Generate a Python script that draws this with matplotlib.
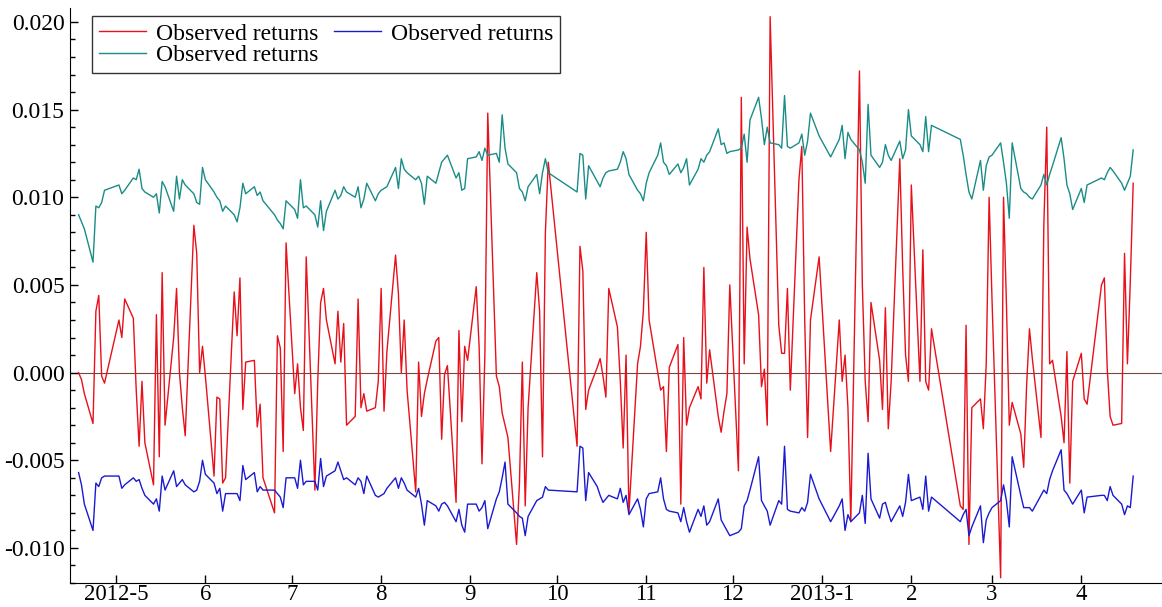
import matplotlib
matplotlib.use("Agg")
import matplotlib.pyplot as plt
import matplotlib.dates as mdates
from matplotlib.ticker import FixedLocator, MultipleLocator, FuncFormatter
import pandas as pd

# trading days (Shanghai), 2012-04-18 .. 2013-04-19
start, end = "2012-04-18", "2013-04-19"
holidays = ["2012-04-30", "2012-05-01", "2012-06-22",
            "2012-10-01", "2012-10-02", "2012-10-03", "2012-10-04", "2012-10-05",
            "2013-01-01", "2013-01-02", "2013-01-03",
            "2013-02-11", "2013-02-12", "2013-02-13", "2013-02-14", "2013-02-15",
            "2013-04-04", "2013-04-05"]

# observed returns (red), month by month
returns = [
    0.0000, -0.0004, -0.0012, -0.0029, 0.0035, 0.0044, -0.0002, -0.0006,
    0.0030, 0.0020, 0.0042, 0.0031, -0.0010, -0.0042, -0.0005, -0.0040, -0.0064, 0.0033, -0.0048,
    0.0057, -0.0030, 0.0020, 0.0048, 0.0000, -0.0020, -0.0036, 0.0084, 0.0068, 0.0000, 0.0015,
    -0.0002, -0.0059, -0.0014, -0.0015, -0.0063, -0.0060, 0.0046, 0.0021, 0.0054, -0.0021,
    0.0006, 0.0007, -0.0031, -0.0018, -0.0060, -0.0080, 0.0021, 0.0014, -0.0045, 0.0074,
    -0.0012, 0.0005, -0.0020, -0.0033, 0.0066, -0.0067, -0.0005, 0.0040, 0.0048, 0.0030, 0.0005,
    0.0035, 0.0006, 0.0028, -0.0030, -0.0025, 0.0042, -0.0020, -0.0012, -0.0022, -0.0020, -0.0005,
    0.0048, -0.0022, 0.0012, 0.0067, 0.0045, 0.0000, 0.0030, -0.0010, -0.0068, 0.0006, -0.0025, -0.0012,
    -0.0004, 0.0018, 0.0020, -0.0038, -0.0001, 0.0004, -0.0074, 0.0024, -0.0028, 0.0015, 0.0007,
    0.0049, 0.0015, -0.0052, 0.0010, 0.0148, -0.0002, -0.0008, -0.0023, -0.0030, -0.0037,
    -0.0098, -0.0063, 0.0006, -0.0076, -0.0020, 0.0057, 0.0035, -0.0048, 0.0080, 0.0120,
    -0.0042, 0.0072, 0.0058, -0.0021, -0.0010, 0.0003, 0.0008, -0.0002, -0.0014,
    0.0048, 0.0026, -0.0005, -0.0043, 0.0010, -0.0080, 0.0005, 0.0015, 0.0035,
    0.0080, 0.0030, 0.0000, -0.0010, -0.0008, -0.0045, 0.0003, 0.0016, -0.0075, 0.0020, -0.0030,
    -0.0020, -0.0008, -0.0015, 0.0060, -0.0006, 0.0013, -0.0025, -0.0034, -0.0022, -0.0012, 0.0050,
    -0.0056, 0.0157, 0.0005, 0.0083, 0.0065, 0.0033, -0.0008, 0.0002, -0.0030, 0.0203, 0.0027,
    0.0011, 0.0011, 0.0048, -0.0010, 0.0110, 0.0129, 0.0030, -0.0037, 0.0030, 0.0066,
    -0.0045, 0.0030, -0.0005, 0.0010, -0.0020, -0.0085, 0.0172, 0.0050, -0.0005, -0.0028,
    0.0040, 0.0007, -0.0021, 0.0037, -0.0032, -0.0005, 0.0122, 0.0060, 0.0010, -0.0005,
    0.0107, -0.0005, 0.0070, -0.0005, -0.0010, 0.0025, -0.0076, -0.0078,
    0.0027, -0.0098, -0.0020, -0.0015, -0.0032, 0.0005, 0.0100,
    0.0042, -0.0117, 0.0100, 0.0040, -0.0030, -0.0017, -0.0035, -0.0054, -0.0008, 0.0025, 0.0008,
    -0.0037, 0.0085, 0.0140, 0.0005, 0.0007, -0.0025, -0.0040, 0.0012, -0.0063, -0.0005,
    0.0011, -0.0015, -0.0018, 0.0050, 0.0054, 0.0002, -0.0025, -0.0030, -0.0029, 0.0068, 0.0005,
    0.0052, 0.0108,
]

# upper band (teal)
upper = [
    0.0090, 0.0086, 0.0082, 0.0063, 0.0095, 0.0094, 0.0097, 0.0104,
    0.0107, 0.0102, 0.0104, 0.0111, 0.0110, 0.0116, 0.0105, 0.0103, 0.0100, 0.0102, 0.0091,
    0.0109, 0.0106, 0.0092, 0.0112, 0.0099, 0.0110, 0.0107, 0.0102, 0.0097, 0.0096, 0.0117,
    0.0110, 0.0103, 0.0100, 0.0098, 0.0092, 0.0095, 0.0090, 0.0086, 0.0094, 0.0108,
    0.0102, 0.0106, 0.0101, 0.0103, 0.0098, 0.0090, 0.0087, 0.0085, 0.0082, 0.0098,
    0.0093, 0.0088, 0.0110, 0.0094, 0.0095, 0.0090, 0.0083, 0.0098, 0.0081, 0.0092, 0.0104,
    0.0099, 0.0101, 0.0106, 0.0103, 0.0100, 0.0106, 0.0094, 0.0099, 0.0108, 0.0098, 0.0102,
    0.0104, 0.0105, 0.0106, 0.0117, 0.0105, 0.0122, 0.0116, 0.0114, 0.0110, 0.0112, 0.0108, 0.0096,
    0.0112, 0.0108, 0.0114, 0.0120, 0.0122, 0.0124, 0.0111, 0.0114, 0.0104, 0.0105, 0.0122,
    0.0123, 0.0126, 0.0121, 0.0128, 0.0124, 0.0125, 0.0120, 0.0147, 0.0128, 0.0119,
    0.0114, 0.0105, 0.0103, 0.0098, 0.0106, 0.0113, 0.0102, 0.0114, 0.0122, 0.0114,
    0.0103, 0.0125, 0.0124, 0.0099, 0.0118, 0.0109, 0.0106, 0.0111, 0.0114,
    0.0115, 0.0116, 0.0120, 0.0126, 0.0122, 0.0113, 0.0104, 0.0102, 0.0098,
    0.0108, 0.0114, 0.0124, 0.0131, 0.0120, 0.0118, 0.0113, 0.0119, 0.0114, 0.0117, 0.0122,
    0.0107, 0.0116, 0.0122, 0.0120, 0.0124, 0.0126, 0.0139, 0.0130, 0.0131, 0.0125, 0.0126,
    0.0127, 0.0128, 0.0136, 0.0120, 0.0144, 0.0157, 0.0145, 0.0130, 0.0140, 0.0131, 0.0130,
    0.0128, 0.0158, 0.0129, 0.0128, 0.0131, 0.0136, 0.0124, 0.0132, 0.0148, 0.0135,
    0.0123, 0.0133, 0.0141, 0.0122, 0.0137, 0.0133, 0.0127, 0.0120, 0.0108, 0.0153,
    0.0124, 0.0117, 0.0120, 0.0130, 0.0124, 0.0121, 0.0132, 0.0122, 0.0127, 0.0150,
    0.0135, 0.0130, 0.0126, 0.0146, 0.0126, 0.0141, 0.0133, 0.0124,
    0.0113, 0.0103, 0.0099, 0.0121, 0.0104, 0.0118, 0.0123,
    0.0124, 0.0131, 0.0120, 0.0108, 0.0088, 0.0131, 0.0105, 0.0103, 0.0102, 0.0100, 0.0099,
    0.0107, 0.0113, 0.0107, 0.0113, 0.0118, 0.0134, 0.0122, 0.0107, 0.0102, 0.0093,
    0.0105, 0.0097, 0.0107, 0.0111, 0.0110, 0.0114, 0.0117, 0.0115, 0.0108, 0.0104, 0.0108,
    0.0112, 0.0127,
]

# lower band (blue)
lower = [
    -0.0057, -0.0064, -0.0075, -0.0090, -0.0063, -0.0065, -0.0060, -0.0059,
    -0.0059, -0.0066, -0.0064, -0.0060, -0.0062, -0.0061, -0.0066, -0.0070, -0.0075, -0.0072, -0.0079,
    -0.0059, -0.0067, -0.0056, -0.0065, -0.0063, -0.0061, -0.0064, -0.0068, -0.0067, -0.0062, -0.0050,
    -0.0058, -0.0063, -0.0069, -0.0066, -0.0079, -0.0069, -0.0069, -0.0069, -0.0073, -0.0053,
    -0.0061, -0.0057, -0.0068, -0.0065, -0.0067, -0.0067, -0.0069, -0.0071, -0.0077, -0.0060,
    -0.0060, -0.0066, -0.0050, -0.0064, -0.0062, -0.0062, -0.0067, -0.0049, -0.0065, -0.0059, -0.0056,
    -0.0051, -0.0056, -0.0061, -0.0060, -0.0064, -0.0060, -0.0062, -0.0069, -0.0059, -0.0070, -0.0071,
    -0.0070, -0.0069, -0.0066, -0.0060, -0.0066, -0.0060, -0.0063, -0.0067, -0.0071, -0.0066, -0.0075, -0.0087,
    -0.0073, -0.0076, -0.0079, -0.0075, -0.0074, -0.0076, -0.0085, -0.0078, -0.0087, -0.0091, -0.0075,
    -0.0075, -0.0079, -0.0077, -0.0073, -0.0089, -0.0072, -0.0068, -0.0060, -0.0051, -0.0075,
    -0.0080, -0.0082, -0.0083, -0.0093, -0.0082, -0.0073, -0.0072, -0.0071, -0.0065, -0.0067,
    -0.0068, -0.0042, -0.0043, -0.0073, -0.0057, -0.0065, -0.0070, -0.0074, -0.0072,
    -0.0070, -0.0072, -0.0066, -0.0074, -0.0070, -0.0081, -0.0072, -0.0078, -0.0088,
    -0.0072, -0.0069, -0.0068, -0.0060, -0.0072, -0.0078, -0.0079, -0.0080, -0.0085, -0.0077, -0.0085,
    -0.0091, -0.0078, -0.0082, -0.0076, -0.0087, -0.0085, -0.0072, -0.0084, -0.0087, -0.0090, -0.0093,
    -0.0091, -0.0089, -0.0076, -0.0073, -0.0067, -0.0048, -0.0073, -0.0076, -0.0079, -0.0087, -0.0073,
    -0.0075, -0.0042, -0.0078, -0.0079, -0.0080, -0.0077, -0.0079, -0.0074, -0.0058, -0.0072,
    -0.0085, -0.0076, -0.0072, -0.0090, -0.0081, -0.0085, -0.0080, -0.0070, -0.0086, -0.0046,
    -0.0072, -0.0083, -0.0075, -0.0074, -0.0080, -0.0085, -0.0076, -0.0082, -0.0074, -0.0058,
    -0.0073, -0.0071, -0.0078, -0.0059, -0.0079, -0.0071, -0.0085, -0.0081,
    -0.0078, -0.0093, -0.0088, -0.0076, -0.0097, -0.0084, -0.0080,
    -0.0077, -0.0073, -0.0064, -0.0073, -0.0088, -0.0048, -0.0070, -0.0077, -0.0077, -0.0077, -0.0079,
    -0.0070, -0.0067, -0.0069, -0.0061, -0.0056, -0.0044, -0.0067, -0.0069, -0.0072, -0.0075,
    -0.0067, -0.0080, -0.0071, -0.0070, -0.0070, -0.0073, -0.0065, -0.0070, -0.0075, -0.0081, -0.0076,
    -0.0077, -0.0059,
]

days = pd.bdate_range(start, end)
days = days[~days.isin(pd.to_datetime(holidays))]
assert len(days) == len(returns) == len(upper) == len(lower), (len(days), len(returns), len(upper), len(lower))

month_starts = pd.date_range("2012-05-01", "2013-04-01", freq="MS")
month_labels = [f"{m.year}-{m.month}" if (i == 0 or m.month == 1) else str(m.month)
                for i, m in enumerate(month_starts)]

plt.rcParams["font.family"] = ["Liberation Serif", "DejaVu Serif"]
plt.rcParams["font.size"] = 17

fig = plt.figure(figsize=(11.62, 6.07), dpi=100)
ax = fig.add_axes([0.0602, 0.0395, 0.9398, 0.9475])

ln_r, = ax.plot(days, returns, color="#e8101a", lw=1.0)
ln_b, = ax.plot(days, lower, color="#1a1ad0", lw=1.0)
ln_t, = ax.plot(days, upper, color="#1a8c88", lw=1.0)
ax.axhline(0, color="#6e4a40", lw=0.8, zorder=0)

ax.set_xlim(pd.Timestamp("2012-04-15"), pd.Timestamp("2013-04-29"))
ax.set_ylim(-0.0120, 0.0208)

ax.xaxis.set_major_locator(FixedLocator(mdates.date2num(month_starts)))
ax.set_xticklabels(month_labels)
ax.yaxis.set_major_locator(MultipleLocator(0.005))
ax.yaxis.set_minor_locator(MultipleLocator(0.001))
ax.yaxis.set_major_formatter(FuncFormatter(lambda v, p: f"{v:.3f}".replace("\u2212", "-")))

ax.tick_params(axis="both", which="major", direction="in", length=6, width=1, pad=4)
ax.tick_params(axis="x", which="major", pad=1, labelsize=16.5)
ax.tick_params(axis="y", which="minor", direction="in", length=3.6, width=1)
ax.spines["top"].set_visible(False)
ax.spines["right"].set_visible(False)

leg = ax.legend([ln_r, ln_t, ln_b], ["Observed returns"] * 3, ncol=2,
                loc="upper left", bbox_to_anchor=(0.0792, 0.9736, 0, 0),
                bbox_transform=fig.transFigure, borderaxespad=0,
                frameon=True, fancybox=False, edgecolor="black",
                handlelength=2.0, handletextpad=0.42, columnspacing=0.64,
                labelspacing=0.0, borderpad=0.3)
leg.get_frame().set_linewidth(1.0)

fig.savefig("out.png", dpi=100)
